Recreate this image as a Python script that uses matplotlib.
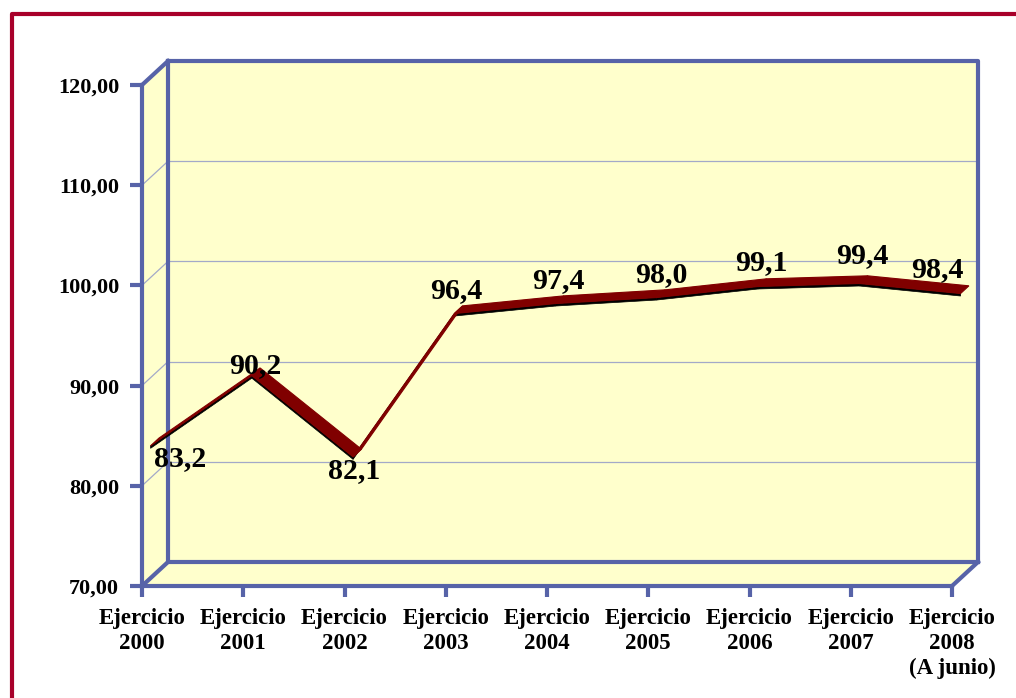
import matplotlib.pyplot as plt
from matplotlib.patches import Polygon
from matplotlib.lines import Line2D

# Data
categories = ['Ejercicio\n2000', 'Ejercicio\n2001', 'Ejercicio\n2002', 'Ejercicio\n2003',
              'Ejercicio\n2004', 'Ejercicio\n2005', 'Ejercicio\n2006', 'Ejercicio\n2007',
              'Ejercicio\n2008\n(A junio)']
values = [83.2, 90.2, 82.1, 96.4, 97.4, 98.0, 99.1, 99.4, 98.4]
y_ticks = [70, 80, 90, 100, 110, 120]
y_ticklabels = ['70,00', '80,00', '90,00', '100,00', '110,00', '120,00']
value_labels = ['83,2', '90,2', '82,1', '96,4', '97,4', '98,0', '99,1', '99,4', '98,4']

# label offsets in pixels (right, up) from the line point
label_dx = [30, 3, 1, 2, 3, 4, 3, 3, -23]
label_dy = [-20, 3, -21, 16, 15, 15, 16, 20, 16]

blue = '#5763A8'
grid_c = '#A3A9C8'
wall_c = '#FFFFCC'
red = '#800000'
frame_c = '#A8002A'
font = 'Liberation Serif'

W, H = 1016, 698
fig = plt.figure(figsize=(W / 100, H / 100), dpi=100)
ax = fig.add_axes([142 / W, (H - 586) / H, 810 / W, 501 / H])
ax.set_xlim(0, 8)
ax.set_ylim(70, 120)
ax.patch.set_alpha(0)

# 3D depth offset in data units (26 px right, 24 px up)
DX = 26 / 101.25
DY = 24 / 10.02
n = len(values) - 1

# walls
back = Polygon([(DX, 70 + DY), (n + DX, 70 + DY), (n + DX, 120 + DY), (DX, 120 + DY)],
               closed=True, fc=wall_c, ec='none', clip_on=False, zorder=1)
side = Polygon([(0, 70), (DX, 70 + DY), (DX, 120 + DY), (0, 120)],
               closed=True, fc=wall_c, ec='none', clip_on=False, zorder=1)
floor = Polygon([(0, 70), (n, 70), (n + DX, 70 + DY), (DX, 70 + DY)],
                closed=True, fc=wall_c, ec='none', clip_on=False, zorder=1)
for p in (back, side, floor):
    ax.add_patch(p)

# gridlines on back and side walls
for v in y_ticks[1:-1]:
    ax.plot([DX, n + DX], [v + DY, v + DY], color=grid_c, lw=0.9, clip_on=False, zorder=2)
    ax.plot([0, DX], [v, v + DY], color=grid_c, lw=0.9, clip_on=False, zorder=2)

# wall edges
edge_kw = dict(color=blue, lw=3, clip_on=False, zorder=3, solid_capstyle='projecting')
ax.plot([DX, n + DX, n + DX], [120 + DY, 120 + DY, 70 + DY], **edge_kw)
ax.plot([DX, DX, n + DX], [120 + DY, 70 + DY, 70 + DY], **edge_kw)
ax.plot([0, DX], [120, 120 + DY], **edge_kw)
ax.plot([0, DX], [70, 70 + DY], **edge_kw)
ax.plot([n, n + DX], [70, 70 + DY], **edge_kw)

# axes spines and ticks
for s in ['top', 'right']:
    ax.spines[s].set_visible(False)
for s in ['left', 'bottom']:
    ax.spines[s].set_color(blue)
    ax.spines[s].set_linewidth(3)
    ax.spines[s].set_zorder(4)
ax.set_yticks(y_ticks)
ax.set_yticklabels(y_ticklabels, fontfamily=font, fontweight='bold', fontsize=16)
ax.set_xticks(range(len(categories)))
ax.set_xticklabels(categories, fontfamily=font, fontweight='bold', fontsize=16.5,
                   linespacing=1.25, va='top')
ax.tick_params(axis='y', length=8.5, width=3, color=blue, pad=8)
ax.tick_params(axis='x', length=8, width=3, color=blue, pad=8)

# ribbon line
f1, f2 = 0.33, 0.65
h = 0.25
for i in range(n):
    x1, x2 = i, i + 1
    v1, v2 = values[i], values[i + 1]
    a = (x1 + f1 * DX, v1 + f1 * DY)
    b = (x2 + f1 * DX, v2 + f1 * DY)
    c = (x2 + f2 * DX, v2 + f2 * DY)
    d = (x1 + f2 * DX, v1 + f2 * DY)
    front = Polygon([a, b, (b[0], b[1] - h), (a[0], a[1] - h)], closed=True,
                    fc='black', ec='black', lw=0.5, clip_on=False, zorder=5)
    top = Polygon([a, b, c, d], closed=True, fc=red, ec=red, lw=0.8,
                  clip_on=False, zorder=6)
    ax.add_patch(front)
    ax.add_patch(top)

# data labels
for i, (v, lab) in enumerate(zip(values, value_labels)):
    ax.annotate(lab, (i + f1 * DX, v + f1 * DY),
                xytext=(label_dx[i] * 0.72, label_dy[i] * 0.72), textcoords='offset points',
                ha='center', va='baseline', fontfamily=font, fontweight='bold',
                fontsize=21.5, zorder=7, annotation_clip=False)

# outer frame (top and left)
fig.add_artist(Line2D([11.5 / W, 11.5 / W, 1], [0, 1 - 13.5 / H, 1 - 13.5 / H],
                      transform=fig.transFigure, color=frame_c, lw=3))

fig.savefig('out.png', dpi=100)
